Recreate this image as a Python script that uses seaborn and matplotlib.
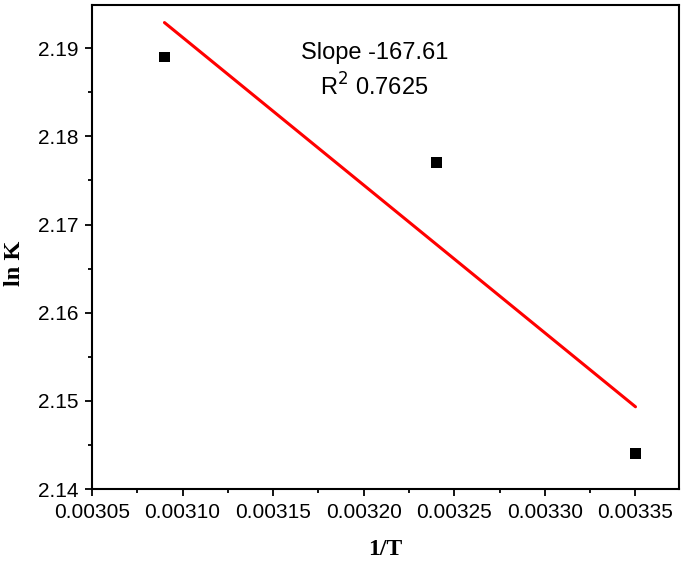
import numpy as np
import pandas as pd
import matplotlib
matplotlib.use("Agg")
import matplotlib.pyplot as plt
from matplotlib.ticker import MultipleLocator, FormatStrFormatter
import seaborn as sns

# data
inv_T = [0.00309, 0.00324, 0.00335]
ln_K = [2.189, 2.177, 2.144]
slope_text = "Slope -167.61"
r2_text = "R$^2$ 0.7625"

df = pd.DataFrame({"1/T": inv_T, "ln K": ln_K})

sns.set_style("ticks")
plt.rcParams['font.family'] = ['Liberation Sans', 'DejaVu Sans']
plt.rcParams['text.color'] = 'black'
plt.rcParams['axes.labelcolor'] = 'black'
plt.rcParams['xtick.color'] = 'black'
plt.rcParams['ytick.color'] = 'black'

fig = plt.figure(figsize=(6.85, 5.63), dpi=100)
ax = fig.add_axes([0.1343, 0.1314, 0.8569, 0.8597])

# linear fit + points
sns.regplot(data=df, x="1/T", y="ln K", ci=None, truncate=True, ax=ax,
            marker="s",
            scatter_kws={"color": "black", "s": 62, "alpha": 1, "edgecolors": "none", "zorder": 3},
            line_kws={"color": "#ff0000", "lw": 2.2, "zorder": 2})

ax.set_xlim(0.003050, 0.003374)
ax.set_ylim(2.14, 2.1949)
ax.xaxis.set_major_locator(MultipleLocator(0.00005))
ax.xaxis.set_minor_locator(MultipleLocator(0.000025))
ax.xaxis.set_major_formatter(FormatStrFormatter('%.5f'))
ax.yaxis.set_major_locator(MultipleLocator(0.01))
ax.yaxis.set_minor_locator(MultipleLocator(0.005))
ax.yaxis.set_major_formatter(FormatStrFormatter('%.2f'))

ax.tick_params(which='major', length=5, width=1.3, labelsize=15, pad=5, color='black', labelcolor='black')
ax.tick_params(which='minor', length=3, width=1.3, color='black')
for sp in ax.spines.values():
    sp.set_linewidth(1.5)
    sp.set_color('black')

ax.set_xlabel("1/T", fontsize=17, fontweight='bold', family=['Liberation Serif'], labelpad=12, color='black')
ax.set_ylabel("ln K", fontsize=17.5, fontweight='bold', family=['Liberation Serif'], color='black')
ax.yaxis.set_label_coords(-0.114, 0.467)

ax.text(0.481, 0.90, slope_text, transform=ax.transAxes, ha='center', va='center', fontsize=17, color='black')
ax.text(0.481, 0.83, r2_text, transform=ax.transAxes, ha='center', va='center', fontsize=17, color='black')

fig.savefig("out.png", dpi=100)
